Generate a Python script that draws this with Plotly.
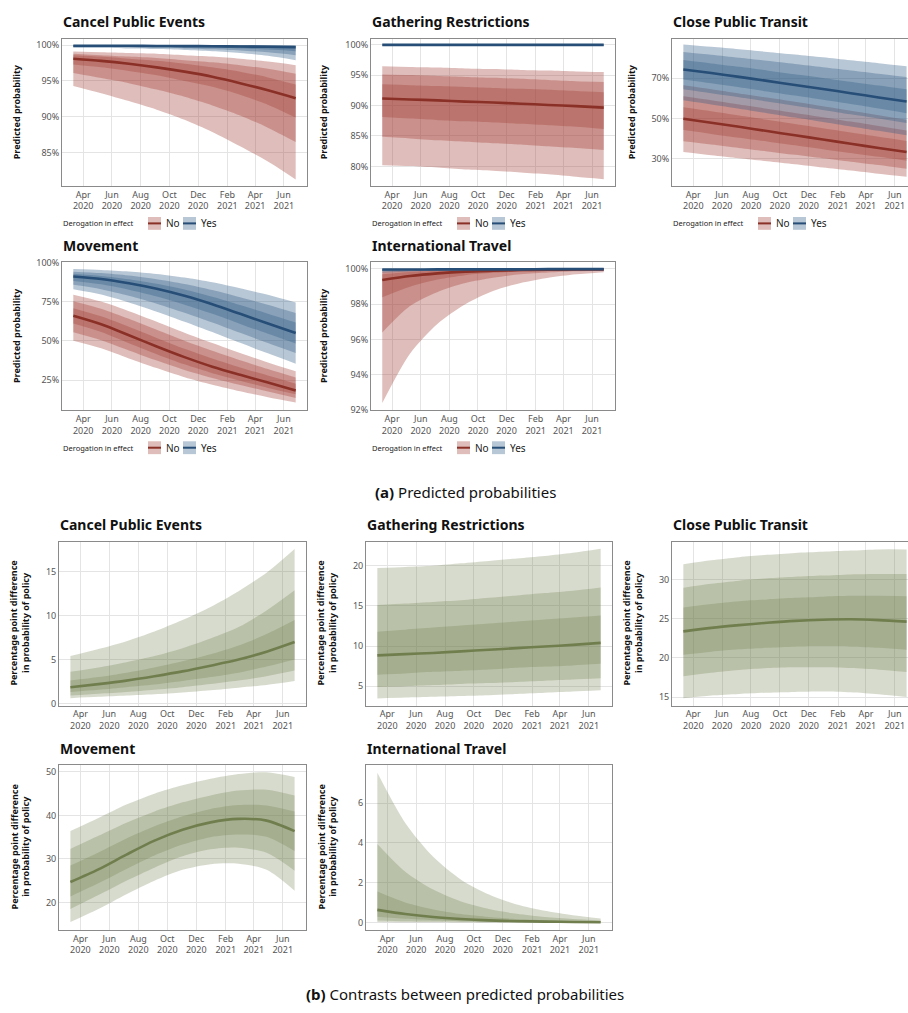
import plotly.graph_objects as go

W, H = 908, 1013

# ---------------- data ----------------
DATES = ["2020-03-11", "2020-05-09", "2020-07-07", "2020-09-04", "2020-11-02",
         "2020-12-31", "2021-02-28", "2021-04-28", "2021-06-26"]

TICK_VALS = ["2020-04-01", "2020-06-01", "2020-08-01", "2020-10-01",
             "2020-12-01", "2021-02-01", "2021-04-01", "2021-06-01"]
TICK_TEXT = ["Apr<br>2020", "Jun<br>2020", "Aug<br>2020", "Oct<br>2020",
             "Dec<br>2020", "Feb<br>2021", "Apr<br>2021", "Jun<br>2021"]

# ---- (a) predicted probabilities (%) ----
CPE_NO = dict(
    med=[98.1, 97.8, 97.4, 96.9, 96.3, 95.6, 94.7, 93.7, 92.6],
    lo95=[94.3, 93.3, 92.2, 91.0, 89.6, 87.9, 85.9, 83.8, 81.3],
    hi95=[99.1, 99.0, 98.9, 98.8, 98.6, 98.4, 98.1, 97.7, 97.2],
    lo80=[96.1, 95.4, 94.7, 93.8, 92.8, 91.6, 90.2, 88.5, 86.5],
    hi80=[98.8, 98.6, 98.4, 98.2, 97.9, 97.6, 97.2, 96.7, 96.0],
    lo50=[97.3, 96.9, 96.4, 95.8, 95.0, 94.2, 93.1, 91.7, 89.9],
    hi50=[98.6, 98.4, 98.1, 97.8, 97.4, 96.9, 96.3, 95.5, 94.5])
CPE_YES = dict(
    med=[99.9, 99.9, 99.9, 99.88, 99.86, 99.84, 99.8, 99.76, 99.7],
    lo95=[99.6, 99.58, 99.52, 99.44, 99.32, 99.15, 98.9, 98.5, 97.9],
    hi95=[99.99, 99.99, 99.99, 99.99, 99.99, 99.99, 99.99, 99.99, 99.99],
    lo80=[99.75, 99.72, 99.68, 99.62, 99.54, 99.42, 99.25, 99.0, 98.6],
    hi80=[99.98, 99.98, 99.98, 99.98, 99.97, 99.97, 99.97, 99.96, 99.96],
    lo50=[99.84, 99.82, 99.8, 99.76, 99.71, 99.64, 99.54, 99.38, 99.15],
    hi50=[99.96, 99.96, 99.95, 99.95, 99.94, 99.93, 99.92, 99.9, 99.88])

GR_NO = dict(
    med=[91.15, 91.0, 90.85, 90.65, 90.5, 90.3, 90.1, 89.9, 89.65],
    lo95=[80.2, 80.05, 79.8, 79.5, 79.3, 79.0, 78.7, 78.3, 77.9],
    hi95=[96.45, 96.35, 96.25, 96.1, 96.0, 95.85, 95.75, 95.6, 95.5],
    lo80=[84.85, 84.6, 84.3, 84.05, 83.8, 83.6, 83.3, 83.0, 82.7],
    hi80=[95.1, 95.0, 94.85, 94.7, 94.55, 94.4, 94.2, 94.0, 93.85],
    lo50=[88.1, 87.85, 87.6, 87.4, 87.2, 87.0, 86.75, 86.5, 86.15],
    hi50=[93.5, 93.35, 93.2, 93.05, 92.9, 92.75, 92.6, 92.4, 92.2])
GR_YES = dict(
    med=[99.97, 99.97, 99.97, 99.97, 99.97, 99.97, 99.97, 99.97, 99.97],
    lo95=[99.88, 99.88, 99.87, 99.87, 99.86, 99.86, 99.85, 99.85, 99.84],
    hi95=[100.0, 100.0, 100.0, 100.0, 100.0, 100.0, 100.0, 100.0, 100.0],
    lo80=[99.92, 99.92, 99.91, 99.91, 99.91, 99.9, 99.9, 99.9, 99.89],
    hi80=[99.99, 99.99, 99.99, 99.99, 99.99, 99.99, 99.99, 99.99, 99.99],
    lo50=[99.95, 99.95, 99.94, 99.94, 99.94, 99.94, 99.93, 99.93, 99.93],
    hi50=[99.99, 99.99, 99.99, 99.99, 99.99, 99.99, 99.99, 99.99, 99.99])

CPT_NO = dict(
    med=[49.8, 47.8, 45.8, 43.7, 41.6, 39.5, 37.4, 35.3, 33.3],
    lo95=[33.3, 31.7, 30.2, 28.7, 27.2, 25.6, 24.1, 22.5, 21.0],
    hi95=[66.5, 64.5, 62.4, 60.3, 58.2, 56.0, 53.8, 51.6, 49.3],
    lo80=[38.6, 37.0, 35.3, 33.6, 31.9, 30.2, 28.5, 26.8, 25.0],
    hi80=[61.0, 59.0, 56.9, 54.8, 52.7, 50.6, 48.4, 46.2, 44.0],
    lo50=[44.2, 42.3, 40.4, 38.5, 36.6, 34.7, 32.8, 30.9, 29.0],
    hi50=[55.5, 53.5, 51.4, 49.3, 47.2, 45.1, 43.0, 40.9, 38.8])
CPT_YES = dict(
    med=[74.3, 72.5, 70.6, 68.6, 66.6, 64.6, 62.5, 60.4, 58.4],
    lo95=[59.0, 56.9, 54.8, 52.6, 50.4, 48.2, 46.0, 43.8, 41.6],
    hi95=[86.7, 85.5, 84.3, 83.0, 81.7, 80.3, 78.8, 77.4, 75.9],
    lo80=[64.5, 62.5, 60.5, 58.4, 56.3, 54.2, 52.0, 49.9, 47.7],
    hi80=[83.0, 81.6, 80.1, 78.6, 77.0, 75.4, 73.8, 72.2, 70.6],
    lo50=[69.3, 67.4, 65.4, 63.4, 61.3, 59.2, 57.1, 54.9, 52.6],
    hi50=[79.0, 77.3, 75.6, 73.8, 71.9, 70.1, 68.2, 66.3, 64.4])

MOV_NO = dict(
    med=[66.0, 60.6, 53.6, 46.4, 39.6, 33.5, 28.3, 23.4, 18.4],
    lo95=[50.0, 45.2, 38.8, 32.6, 26.8, 22.0, 17.8, 14.0, 10.6],
    hi95=[79.4, 75.0, 68.9, 62.2, 55.2, 48.6, 42.2, 36.2, 30.6],
    lo80=[55.5, 50.4, 43.9, 37.4, 31.4, 26.3, 21.8, 17.7, 13.6],
    hi80=[75.3, 70.5, 64.0, 57.0, 50.0, 43.6, 37.6, 32.0, 26.6],
    lo50=[61.0, 55.6, 48.5, 41.5, 35.0, 29.4, 24.6, 20.0, 16.0],
    hi50=[70.8, 65.6, 58.9, 51.8, 44.9, 38.7, 33.0, 27.9, 22.7])
MOV_YES = dict(
    med=[91.0, 89.4, 86.7, 83.2, 78.7, 73.3, 67.2, 61.0, 55.0],
    lo95=[82.9, 79.5, 74.5, 68.6, 62.2, 55.6, 48.7, 42.0, 35.4],
    hi95=[95.8, 95.2, 94.2, 92.6, 90.3, 87.3, 83.5, 79.3, 74.4],
    lo80=[85.7, 82.9, 78.7, 73.7, 67.9, 61.7, 55.1, 48.6, 42.2],
    hi80=[94.1, 93.2, 91.6, 89.3, 86.3, 82.4, 77.8, 73.0, 67.7],
    lo50=[88.2, 86.0, 82.5, 78.2, 73.0, 67.2, 60.8, 54.5, 48.3],
    hi50=[92.7, 91.4, 89.3, 86.4, 82.7, 78.1, 72.8, 67.3, 61.7])

IT_NO = dict(
    med=[99.38, 99.6, 99.75, 99.85, 99.9, 99.94, 99.96, 99.97, 99.98],
    lo95=[92.4, 95.2, 96.9, 98.0, 98.75, 99.2, 99.5, 99.7, 99.82],
    hi95=[99.93, 99.96, 99.98, 99.99, 99.99, 99.99, 99.99, 100.0, 100.0],
    lo80=[96.4, 97.9, 98.7, 99.2, 99.5, 99.7, 99.8, 99.87, 99.9],
    hi80=[99.85, 99.92, 99.95, 99.97, 99.98, 99.99, 99.99, 99.99, 99.99],
    lo50=[98.4, 99.0, 99.4, 99.65, 99.78, 99.86, 99.9, 99.93, 99.95],
    hi50=[99.7, 99.83, 99.9, 99.94, 99.96, 99.97, 99.98, 99.98, 99.99])
IT_YES = dict(
    med=[99.97, 99.97, 99.98, 99.98, 99.98, 99.98, 99.99, 99.99, 99.99],
    lo95=[99.8, 99.86, 99.9, 99.93, 99.94, 99.95, 99.96, 99.96, 99.97],
    hi95=[100.0, 100.0, 100.0, 100.0, 100.0, 100.0, 100.0, 100.0, 100.0],
    lo80=[99.88, 99.91, 99.93, 99.95, 99.96, 99.96, 99.97, 99.97, 99.98],
    hi80=[99.99, 99.99, 99.99, 100.0, 100.0, 100.0, 100.0, 100.0, 100.0],
    lo50=[99.93, 99.95, 99.96, 99.97, 99.97, 99.97, 99.98, 99.98, 99.98],
    hi50=[99.99, 99.99, 99.99, 99.99, 99.99, 99.99, 99.99, 99.99, 99.99])

# ---- (b) contrasts (percentage points) ----
CPE_DIFF = dict(
    med=[1.85, 2.2, 2.6, 3.1, 3.65, 4.3, 5.0, 5.9, 7.0],
    lo95=[0.6, 0.75, 0.9, 1.05, 1.25, 1.5, 1.8, 2.1, 2.55],
    hi95=[5.4, 6.2, 7.1, 8.2, 9.5, 11.0, 12.8, 14.9, 17.6],
    lo80=[0.9, 1.1, 1.3, 1.55, 1.85, 2.2, 2.6, 3.1, 3.75],
    hi80=[3.6, 4.1, 4.7, 5.4, 6.3, 7.4, 8.7, 10.6, 12.9],
    lo50=[1.3, 1.55, 1.85, 2.15, 2.55, 3.0, 3.5, 4.2, 5.0],
    hi50=[2.6, 3.0, 3.5, 4.1, 4.8, 5.6, 6.6, 7.9, 9.5])
GR_DIFF = dict(
    med=[8.85, 9.0, 9.15, 9.35, 9.55, 9.75, 9.95, 10.15, 10.4],
    lo95=[3.5, 3.6, 3.7, 3.8, 3.9, 4.05, 4.2, 4.35, 4.5],
    hi95=[19.7, 19.85, 20.0, 20.3, 20.6, 20.9, 21.2, 21.6, 22.1],
    lo80=[4.9, 5.0, 5.15, 5.3, 5.4, 5.55, 5.7, 5.85, 6.0],
    hi80=[15.1, 15.3, 15.5, 15.7, 16.0, 16.3, 16.6, 16.9, 17.3],
    lo50=[6.45, 6.6, 6.8, 6.95, 7.1, 7.3, 7.45, 7.6, 7.8],
    hi50=[11.8, 12.05, 12.3, 12.55, 12.8, 13.05, 13.3, 13.55, 13.8])
CPT_DIFF = dict(
    med=[23.4, 23.85, 24.2, 24.5, 24.75, 24.9, 24.95, 24.85, 24.65],
    lo95=[14.85, 15.2, 15.4, 15.55, 15.65, 15.7, 15.6, 15.35, 15.0],
    hi95=[32.0, 32.5, 32.9, 33.2, 33.45, 33.6, 33.75, 33.9, 33.9],
    lo80=[17.65, 18.1, 18.45, 18.7, 18.8, 18.8, 18.7, 18.5, 18.2],
    hi80=[29.0, 29.5, 29.9, 30.2, 30.4, 30.55, 30.7, 30.75, 30.75],
    lo50=[20.4, 20.8, 21.1, 21.3, 21.45, 21.5, 21.45, 21.3, 21.05],
    hi50=[26.45, 26.9, 27.25, 27.5, 27.7, 27.85, 27.95, 27.95, 27.9])
MOV_DIFF = dict(
    med=[24.7, 27.6, 31.0, 34.2, 36.7, 38.4, 39.2, 38.8, 36.4],
    lo95=[15.5, 18.5, 21.9, 25.0, 27.5, 28.8, 28.9, 27.5, 22.7],
    hi95=[36.4, 39.4, 42.5, 45.0, 46.9, 48.4, 49.5, 49.9, 48.8],
    lo80=[18.5, 21.7, 25.0, 28.0, 30.6, 32.2, 32.6, 31.4, 27.3],
    hi80=[32.3, 35.3, 38.3, 40.9, 43.0, 44.6, 45.7, 45.9, 44.6],
    lo50=[21.4, 24.4, 27.7, 30.8, 33.3, 35.0, 35.6, 35.1, 31.8],
    hi50=[28.5, 31.5, 34.7, 37.5, 39.8, 41.5, 42.4, 42.3, 40.9])
IT_DIFF = dict(
    med=[0.63, 0.42, 0.27, 0.17, 0.1, 0.06, 0.04, 0.02, 0.01],
    lo95=[0.02, 0.01, 0.01, 0.0, 0.0, 0.0, 0.0, 0.0, 0.0],
    hi95=[7.53, 5.0, 3.3, 2.15, 1.4, 0.9, 0.58, 0.36, 0.2],
    lo80=[0.1, 0.06, 0.04, 0.02, 0.01, 0.01, 0.0, 0.0, 0.0],
    hi80=[3.95, 2.55, 1.65, 1.05, 0.67, 0.43, 0.27, 0.17, 0.1],
    lo50=[0.28, 0.18, 0.11, 0.07, 0.04, 0.03, 0.02, 0.01, 0.0],
    hi50=[1.55, 1.0, 0.65, 0.42, 0.27, 0.17, 0.11, 0.07, 0.04])

# ---------------- styles ----------------
FONT = "Noto Sans"
RED_FILL, RED_LINE = "rgba(160,62,52,0.34)", "rgb(138,48,38)"
BLUE_FILL, BLUE_LINE = "rgba(48,90,132,0.34)", "rgb(38,78,118)"
GREEN_FILL, GREEN_LINE = "rgba(110,125,75,0.28)", "rgb(112,126,78)"
GRID, BORDER, TICKC = "#e4e4e4", "#8a8a8a", "#555555"

RANGE_FULL = ["2020-02-16", "2021-07-20"]
RANGE_CLIP = ["2020-02-16", "2021-06-29"]

panels = [
    dict(title="Cancel Public Events", box=(62, 307, 33, 182), yr=[80.4, 100.9], t0=0, dt=5,
         suf="%", ser=[(CPE_NO, RED_FILL, RED_LINE), (CPE_YES, BLUE_FILL, BLUE_LINE)], yto=46),
    dict(title="Gathering Restrictions", box=(371, 615, 33, 182), yr=[76.8, 101.0], t0=0, dt=5,
         suf="%", ser=[(GR_NO, RED_FILL, RED_LINE), (GR_YES, BLUE_FILL, BLUE_LINE)], yto=48),
    dict(title="Close Public Transit", box=(672, 908, 33, 182), yr=[16.5, 89.6], t0=10, dt=20,
         suf="%", ser=[(CPT_NO, RED_FILL, RED_LINE), (CPT_YES, BLUE_FILL, BLUE_LINE)], yto=41, clip=True),
    dict(title="Movement", box=(62, 307, 259, 409), yr=[5.8, 100.3], t0=0, dt=25,
         suf="%", ser=[(MOV_NO, RED_FILL, RED_LINE), (MOV_YES, BLUE_FILL, BLUE_LINE)], yto=46),
    dict(title="International Travel", box=(371, 615, 259, 409), yr=[92.0, 100.4], t0=0, dt=2,
         suf="%", ser=[(IT_NO, RED_FILL, RED_LINE), (IT_YES, BLUE_FILL, BLUE_LINE)], yto=48),
    dict(title="Cancel Public Events", box=(59, 306, 542, 708), yr=[-0.25, 18.45], t0=0, dt=5,
         suf="", ser=[(CPE_DIFF, GREEN_FILL, GREEN_LINE)], yto=39),
    dict(title="Gathering Restrictions", box=(366, 612, 542, 708), yr=[2.6, 23.0], t0=0, dt=5,
         suf="", ser=[(GR_DIFF, GREEN_FILL, GREEN_LINE)], yto=39),
    dict(title="Close Public Transit", box=(672, 908, 542, 708), yr=[13.9, 34.9], t0=0, dt=5,
         suf="", ser=[(CPT_DIFF, GREEN_FILL, GREEN_LINE)], yto=39, clip=True),
    dict(title="Movement", box=(59, 306, 768, 935), yr=[13.7, 51.6], t0=0, dt=10,
         suf="", ser=[(MOV_DIFF, GREEN_FILL, GREEN_LINE)], yto=39),
    dict(title="International Travel", box=(366, 612, 768, 935), yr=[-0.38, 7.93], t0=0, dt=2,
         suf="", ser=[(IT_DIFF, GREEN_FILL, GREEN_LINE)], yto=39),
]


def px(x):
    return x / W


def py(y):
    return 1 - y / H


fig = go.Figure()
layout = dict(width=W, height=H, margin=dict(l=0, r=0, t=0, b=0),
              paper_bgcolor="white", plot_bgcolor="white", showlegend=False,
              font=dict(family=FONT, color="#222222"))
annotations = []
shapes = []

for i, p in enumerate(panels):
    n = i + 1
    xref = "x" if n == 1 else f"x{n}"
    yref = "y" if n == 1 else f"y{n}"
    x0, x1, y0, y1 = p["box"]
    clip = p.get("clip", False)

    layout["xaxis" if n == 1 else f"xaxis{n}"] = dict(
        domain=[px(x0), px(x1)], anchor=yref, type="date",
        range=RANGE_CLIP if clip else RANGE_FULL,
        tickmode="array", tickvals=TICK_VALS, ticktext=TICK_TEXT,
        tickfont=dict(size=9, color=TICKC, family=FONT), ticks="",
        showgrid=True, gridcolor=GRID, gridwidth=1.2,
        showline=True, linecolor=BORDER, linewidth=1, mirror=True, zeroline=False, fixedrange=True)
    layout["yaxis" if n == 1 else f"yaxis{n}"] = dict(
        domain=[py(y1), py(y0)], anchor=xref, range=p["yr"],
        tick0=p["t0"], dtick=p["dt"], ticksuffix=p["suf"],
        tickfont=dict(size=9, color=TICKC, family=FONT), ticks="",
        showgrid=True, gridcolor=GRID, gridwidth=1.2,
        showline=True, linecolor=BORDER, linewidth=1, mirror=not clip, zeroline=False, fixedrange=True)

    for data, fill, line in p["ser"]:
        for lvl in ("95", "80", "50"):
            fig.add_trace(go.Scatter(x=DATES, y=data["hi" + lvl], xaxis=xref, yaxis=yref,
                                     mode="lines", line=dict(width=0, shape="spline", smoothing=0.8),
                                     hoverinfo="skip"))
            fig.add_trace(go.Scatter(x=DATES, y=data["lo" + lvl], xaxis=xref, yaxis=yref,
                                     mode="lines", line=dict(width=0, shape="spline", smoothing=0.8),
                                     fill="tonexty", fillcolor=fill, hoverinfo="skip"))
    for data, fill, line in p["ser"]:
        fig.add_trace(go.Scatter(x=DATES, y=data["med"], xaxis=xref, yaxis=yref, mode="lines",
                                 line=dict(color=line, width=2.6, shape="spline", smoothing=0.8),
                                 hoverinfo="skip"))

    annotations.append(dict(text=f"<b>{p['title']}</b>", xref="paper", yref="paper",
                            x=px(x0 - 1), y=py(y0 - 17), xanchor="left", yanchor="middle",
                            showarrow=False, font=dict(size=14, color="#111111", family=FONT)))
    ytitle = "Predicted probability" if p["suf"] == "%" else \
        "Percentage point difference<br>in probability of policy"
    annotations.append(dict(text=f"<b>{ytitle}</b>", xref="paper", yref="paper",
                            x=px(x0 - p["yto"]), y=py((y0 + y1) / 2), xanchor="center", yanchor="middle",
                            textangle=-90, showarrow=False,
                            font=dict(size=9, color="#111111", family=FONT)))

    if p["suf"] == "%":
        ly = y1 + 38
        annotations.append(dict(text="Derogation in effect", xref="paper", yref="paper",
                                x=px(x0 - 1), y=py(ly), xanchor="left", yanchor="middle", showarrow=False,
                                font=dict(size=7.5, color="#222222", family=FONT)))
        for k, (lab, fill, line) in enumerate((("No", RED_FILL, RED_LINE), ("Yes", BLUE_FILL, BLUE_LINE))):
            sx = x0 + 86 + k * 35
            shapes.append(dict(type="rect", xref="paper", yref="paper",
                               x0=px(sx), x1=px(sx + 13), y0=py(ly + 6.5), y1=py(ly - 6.5),
                               fillcolor=fill, line=dict(width=0)))
            shapes.append(dict(type="line", xref="paper", yref="paper",
                               x0=px(sx), x1=px(sx + 13), y0=py(ly), y1=py(ly),
                               line=dict(color=line, width=2)))
            annotations.append(dict(text=lab, xref="paper", yref="paper",
                                    x=px(sx + 16), y=py(ly), xanchor="left", yanchor="middle",
                                    showarrow=False, font=dict(size=10, color="#222222", family=FONT)))

annotations.append(dict(text="<b>(a)</b> Predicted probabilities", xref="paper", yref="paper",
                        x=px(465), y=py(492), xanchor="center", yanchor="middle", showarrow=False,
                        font=dict(size=15, color="#111111", family=FONT)))
annotations.append(dict(text="<b>(b)</b> Contrasts between predicted probabilities", xref="paper",
                        yref="paper", x=px(465), y=py(1000), xanchor="center", yanchor="middle",
                        showarrow=False, font=dict(size=15, color="#111111", family=FONT)))

layout["annotations"] = annotations
layout["shapes"] = shapes
fig.update_layout(**layout)
fig.write_html("out.html", config={"displayModeBar": False},
               post_script="document.body.style.margin='0px';")
